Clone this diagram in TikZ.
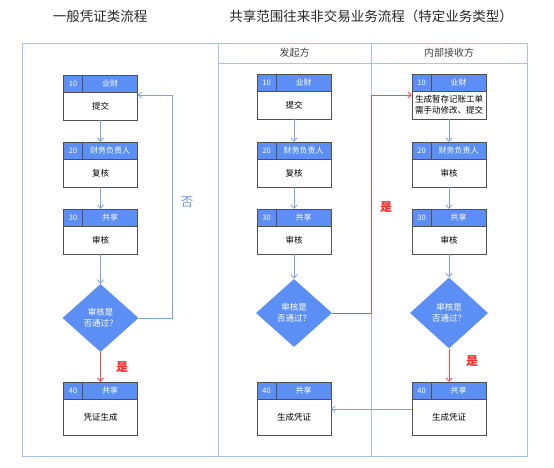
\documentclass[tikz,border=0pt]{standalone}
\usepackage{fontspec}
\setmainfont{Noto Sans CJK SC}
\usetikzlibrary{arrows.meta,positioning,calc,shapes.geometric}
\definecolor{headblue}{HTML}{5B8FF5}
\definecolor{boxline}{HTML}{505050}
\definecolor{flowblue}{HTML}{7EA0E2}
\definecolor{framecol}{HTML}{A9C2F2}
\definecolor{yesred}{HTML}{FF2A2A}
\definecolor{redline}{HTML}{FF4A4A}
\definecolor{nocol}{HTML}{6F95E3}
% one step box: number cell + role header + body
\newcommand{\flowbox}[6][28pt]{%
  \node[boxhead, anchor=north] (#2h) at (#3) {};
  \node[boxnum, anchor=north west] (#2n) at (#2h.north west) {#4};
  \node[headtext] (#2t) at ($(#2n.east)!0.5!(#2h.east)$) {#5};
  \node[boxbody, minimum height=#1, below=0pt of #2h] (#2) {#6};
}

\begin{document}
\begin{tikzpicture}[
  x=1pt, y=-1pt,
  boxhead/.style={draw=boxline, fill=headblue, line width=0.8pt, minimum width=74pt, minimum height=17pt, inner sep=0pt, outer sep=0pt},
  boxnum/.style={boxhead, minimum width=19pt, text=white, font=\fontsize{7.5}{8}\selectfont},
  headtext/.style={text=white, inner sep=0pt, font=\fontsize{8}{9}\selectfont},
  boxbody/.style={draw=boxline, fill=white, line width=0.8pt, minimum width=74pt, inner sep=1pt, outer sep=0pt, align=center, font=\fontsize{8.5}{11}\selectfont},
  decision/.style={diamond, fill=headblue, text=white, minimum width=76pt, minimum height=68pt, inner sep=0pt, align=center, font=\fontsize{8.5}{11}\selectfont},
  flow/.style={-{Straight Barb[length=3.5pt,width=6pt]}, draw=flowblue, line width=0.8pt},
  yesline/.style={flow, draw=redline, line width=0.9pt},
  frame/.style={draw=framecol, line width=0.8pt},
  yestext/.style={text=yesred, font=\fontsize{12}{12}\selectfont\bfseries},
  notext/.style={text=nocol, font=\fontsize{12.5}{12.5}\selectfont},
  lanetext/.style={text=darkgray, font=\fontsize{10}{10}\selectfont},
  titletext/.style={text=black!85, font=\fontsize{13.5}{14}\selectfont},
]
  \useasboundingbox (0,0) rectangle (554,468);

  % titles
  \node[titletext] (title1) at (100,16) {一般凭证类流程};
  \node[titletext] (title2) at (371,16) {共享范围往来非交易业务流程（特定业务类型）};

  % frame and lanes
  \draw[frame] (22,43) rectangle (527,456);
  \draw[frame] (218,43) -- (218,456);
  \draw[frame] (371,43) -- (371,456);
  \draw[frame] (218,63) -- (527,63);
  \node[lanetext] (lane1) at (294.5,53) {发起方};
  \node[lanetext] (lane2) at (449,53) {内部接收方};

  % general voucher flow
  \flowbox{l1}{100.5,75}{10}{业财}{提交}
  \flowbox{l2}{100.5,142}{20}{财务负责人}{复核}
  \flowbox{l3}{100.5,209}{30}{共享}{审核}
  \node[decision] (ld) at (100.5,318) {审核是\\否通过？};
  \flowbox[36pt]{l4}{100.5,382}{40}{共享}{凭证生成}

  % initiator
  \flowbox{m1}{294,74}{10}{业财}{提交}
  \flowbox{m2}{294,142}{20}{财务负责人}{复核}
  \flowbox{m3}{294,209}{30}{共享}{审核}
  \node[decision] (md) at (294,313) {审核是\\否通过？};
  \flowbox[36pt]{m4}{294,382}{40}{共享}{生成凭证}

  % internal receiver
  \flowbox{r1}{449,74}{10}{业财}{生成暂存记账工单\\需手动修改、提交}
  \flowbox{r2}{449,142}{20}{财务负责人}{审核}
  \flowbox{r3}{449,209}{30}{共享}{审核}
  \node[decision, minimum width=78pt, minimum height=71pt] (rd) at (449,313) {审核是\\否通过？};
  \flowbox[36pt]{r4}{449,382}{40}{共享}{生成凭证}

  % connectors
  \draw[flow] (l1) -- (l2h);
  \draw[flow] (l2) -- (l3h);
  \draw[flow] (l3) -- (ld);
  \draw[yesline] (ld) -- (l4h);
  \coordinate (lback) at (172,95);
  \draw[flow] (ld.east) -| (lback) -- (l1.east |- lback);

  \draw[flow] (m1) -- (m2h);
  \draw[flow] (m2) -- (m3h);
  \draw[flow] (m3) -- (md);
  \coordinate (mgo) at (371,95);
  \draw[yesline] (md.east) -| (mgo) -- (r1.west |- mgo);

  \draw[flow] (r1) -- (r2h);
  \draw[flow] (r2) -- (r3h);
  \draw[flow] (r3) -- (rd);
  \draw[yesline] (rd) -- (r4h);
  \coordinate (rback) at (400,409);
  \draw[flow] (r4.west |- rback) -- (m4.east |- rback);

  % branch labels
  \node[yestext] (lyes) at (122,367) {是};
  \node[notext] (lno) at (187,202) {否};
  \node[yestext] (myes) at (386,207) {是};
  \node[yestext] (ryes) at (472,361) {是};
\end{tikzpicture}
\end{document}
